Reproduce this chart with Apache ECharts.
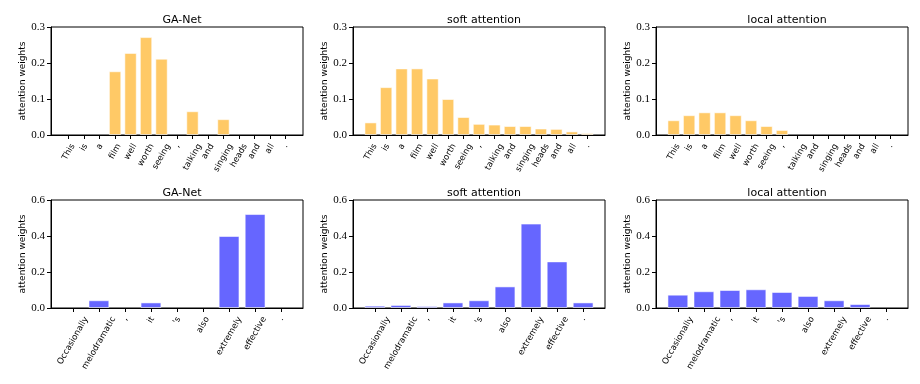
<!DOCTYPE html>
<html>
<head>
<meta charset="utf-8">
<script src="https://cdn.jsdelivr.net/npm/echarts@6/dist/echarts.min.js"></script>
<style>
  html, body { margin: 0; padding: 0; background: #fff; }
  #chart { width: 920px; height: 384px; }
</style>
</head>
<body>
<div id="chart"></div>
<script>
// categories
const topWords = ['This', 'is', 'a', 'film', 'well', 'worth', 'seeing', ',', 'talking', 'and', 'singing', 'heads', 'and', 'all', '.'];
const bottomWords = ['Occasionally', 'melodramatic', ',', 'it', "'s", 'also', 'extremely', 'effective', '.'];
const titles = ['GA-Net', 'soft attention', 'local attention'];

// attention weights, top sentence
const topGaNet = [0, 0, 0, 0.177, 0.228, 0.272, 0.212, 0, 0.066, 0, 0.044, 0, 0, 0, 0];
const topSoft = [0.035, 0.133, 0.185, 0.185, 0.157, 0.100, 0.050, 0.031, 0.029, 0.025, 0.025, 0.018, 0.017, 0.010, 0.005];
const topLocal = [0.041, 0.055, 0.063, 0.063, 0.055, 0.041, 0.025, 0.014, 0, 0, 0, 0, 0, 0, 0];

// attention weights, bottom sentence
const bottomGaNet = [0, 0.043, 0, 0.031, 0, 0, 0.400, 0.522, 0];
const bottomSoft = [0.013, 0.017, 0.011, 0.031, 0.043, 0.120, 0.469, 0.259, 0.031];
const bottomLocal = [0.074, 0.093, 0.100, 0.104, 0.089, 0.067, 0.043, 0.022, 0];

const orange = '#FFC966';
const blue = '#6666FF';

const panelLefts = [51, 353, 656];
const panelWidth = 252;
const panelHeight = 108;

const labelFontSize = 8.5;
const labelFont = labelFontSize + 'px "DejaVu Sans"';
const labelAngle = Math.PI / 3;

// text widths, to centre the rotated labels under their ticks
const measureCtx = document.createElement('canvas').getContext('2d');
measureCtx.font = labelFont;
const textWidth = s => measureCtx.measureText(s).width;

let option = {
    backgroundColor: '#fff',
    animation: false,
    title: [],
    grid: [],
    xAxis: [],
    yAxis: [],
    series: []
};

function addPanel(left, top, words, values, yMax, yStep, color, title) {
    const idx = option.grid.length;
    const n = words.length;
    // matplotlib style limits: bars of width .8 plus 5% margins
    const span = n - 1 + 0.8;
    const pad = 0.05 * span;
    const xMin = -0.4 - pad;
    const xMax = n - 1 + 0.4 + pad;
    const positions = words.map((w, i) => i);
    const barWidth = 0.8 * panelWidth / (xMax - xMin);

    option.title.push({
        text: title,
        left: left + panelWidth / 2,
        top: top - 17,
        textAlign: 'center',
        textStyle: { fontFamily: 'DejaVu Sans', fontSize: 11, fontWeight: 'normal', color: '#000' }
    });
    option.grid.push({
        left: left, top: top, width: panelWidth, height: panelHeight,
        show: true, borderColor: '#000', borderWidth: 1, backgroundColor: 'transparent'
    });
    option.xAxis.push({
        type: 'value',
        gridIndex: idx,
        min: xMin,
        max: xMax,
        axisLine: { show: true, onZero: false, lineStyle: { color: '#000', width: 1 } },
        axisTick: { show: true, customValues: positions, length: 4, lineStyle: { color: '#000' } },
        axisLabel: { show: false },
        splitLine: { show: false }
    });
    option.yAxis.push({
        type: 'value',
        gridIndex: idx,
        min: 0,
        max: yMax,
        interval: yStep,
        name: 'attention weights',
        nameLocation: 'middle',
        nameGap: 24,
        nameTextStyle: { fontFamily: 'DejaVu Sans', fontSize: 9, color: '#000' },
        axisLine: { show: true, onZero: false, lineStyle: { color: '#000', width: 1 } },
        axisTick: { show: true, length: 4, lineStyle: { color: '#000' } },
        axisLabel: {
            formatter: v => v.toFixed(1),
            margin: 6,
            fontFamily: '"Liberation Serif", "DejaVu Serif", serif',
            fontSize: 11,
            color: '#000'
        },
        splitLine: { show: false }
    });
    // zero-height bars are not drawn, as in the original
    option.series.push({
        type: 'bar',
        xAxisIndex: idx,
        yAxisIndex: idx,
        data: values.map((v, i) => [i, v]).filter(d => d[1] > 0),
        barWidth: barWidth,
        silent: true,
        itemStyle: { color: color, borderColor: 'rgba(255,255,255,0.55)', borderWidth: 1 }
    });
    // rotated tick labels, box centred on the tick (matplotlib ha='center')
    option.series.push({
        type: 'custom',
        xAxisIndex: idx,
        yAxisIndex: idx,
        clip: false,
        silent: true,
        data: positions.map(i => [i, 0]),
        renderItem: (params, api) => {
            const p = api.coord([api.value(0), 0]);
            const word = words[params.dataIndex];
            const w = textWidth(word);
            const h = labelFontSize * 1.15;
            const ext = w * Math.sin(labelAngle) + h * Math.cos(labelAngle);
            return {
                type: 'text',
                x: p[0],
                y: p[1] + 7 + ext / 2,
                rotation: labelAngle,
                style: {
                    text: word,
                    font: labelFont,
                    fill: '#000',
                    align: 'center',
                    verticalAlign: 'middle'
                }
            };
        }
    });
}

addPanel(panelLefts[0], 27, topWords, topGaNet, 0.3, 0.1, orange, titles[0]);
addPanel(panelLefts[1], 27, topWords, topSoft, 0.3, 0.1, orange, titles[1]);
addPanel(panelLefts[2], 27, topWords, topLocal, 0.3, 0.1, orange, titles[2]);
addPanel(panelLefts[0], 200, bottomWords, bottomGaNet, 0.6, 0.2, blue, titles[0]);
addPanel(panelLefts[1], 200, bottomWords, bottomSoft, 0.6, 0.2, blue, titles[1]);
addPanel(panelLefts[2], 200, bottomWords, bottomLocal, 0.6, 0.2, blue, titles[2]);

let chart = echarts.init(document.getElementById('chart'), null, { renderer: 'canvas' });
option && chart.setOption(option);
</script>
</body>
</html>
